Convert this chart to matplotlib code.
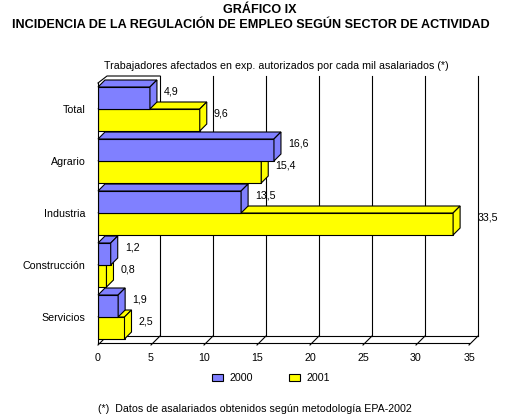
import matplotlib
matplotlib.use("Agg")
import matplotlib.pyplot as plt
from matplotlib.patches import Polygon, Rectangle

plt.rcParams['font.family'] = ['Liberation Sans', 'DejaVu Sans']

# Data
sectores = ["Total", "Agrario", "Industria", "Construcción", "Servicios"]
valores_2000 = [4.9, 16.6, 13.5, 1.2, 1.9]
valores_2001 = [9.6, 15.4, 33.5, 0.8, 2.5]
anios = ["2000", "2001"]
ticks_x = [0, 5, 10, 15, 20, 25, 30, 35]

color_2000 = "#8080FF"
color_2001 = "#FFFF00"
fs = 7.7

W, H = 524, 417
fig = plt.figure(figsize=(W / 100, H / 100), dpi=100)

# front plane of the 3D box (pixels)
left, right, top, bottom = 98, 469, 83, 343
ax = fig.add_axes([left / W, 1 - bottom / H, (right - left) / W, (bottom - top) / H])
ax.set_xlim(0, 35)
ax.set_ylim(4.5, -0.5)

ux = (right - left) / 35.0
uy = (bottom - top) / 5.0


def px(dx, dy):
    return dx / ux, dy / uy


wx, wy = px(9, 7)     # wall depth
bx, by = px(7, 7)     # bar depth
h = 22 / uy           # bar thickness
lw = 0.8

# back wall grid + floor
for t in ticks_x[1:]:
    ax.plot([t + wx, t + wx], [-0.5 - wy, 4.5 - wy], color='k', lw=lw, zorder=1, clip_on=False)
ax.plot([wx, 35 + wx], [4.5 - wy, 4.5 - wy], color='k', lw=lw, zorder=1, clip_on=False)
ax.plot([0, wx, 5 + wx], [-0.5, -0.5 - wy, -0.5 - wy], color='k', lw=lw, zorder=1, clip_on=False)
# diagonal ticks on the floor
for t in ticks_x:
    ax.plot([t, t + wx], [4.5 + px(0, 2)[1], 4.5 - wy], color='k', lw=lw, zorder=1, clip_on=False)


def barra(yc, v, color, z, dx_lab=7):
    ax.barh(yc, v, height=h, color=color, edgecolor='k', linewidth=lw, zorder=z)
    y0, y1 = yc - h / 2, yc + h / 2
    cara_sup = Polygon([(0, y0), (v, y0), (v + bx, y0 - by), (bx, y0 - by)],
                       fc=color, ec='k', lw=lw, zorder=z, clip_on=False)
    cara_lat = Polygon([(v, y0), (v + bx, y0 - by), (v + bx, y1 - by), (v, y1)],
                       fc=color, ec='k', lw=lw, zorder=z, clip_on=False)
    ax.add_patch(cara_sup)
    ax.add_patch(cara_lat)
    etiqueta = f"{v:.1f}".replace('.', ',')
    ax.text(v + bx + px(dx_lab, 0)[0], yc - px(0, 7)[1], etiqueta, fontsize=fs,
            ha='left', va='center', zorder=50)


# draw from the bottom category up so upper bars overlap lower ones
for i in reversed(range(len(sectores))):
    z = 10 + (len(sectores) - i) * 3
    barra(i + h / 2, valores_2001[i], color_2001, z, 7 if valores_2001[i] < 30 else 18)
    barra(i - h / 2, valores_2000[i], color_2000, z + 1)

ax.set_xticks(ticks_x)
ax.set_xticklabels([str(t) for t in ticks_x], fontsize=fs)
ax.set_yticks(range(len(sectores)))
ax.set_yticklabels(sectores, fontsize=fs)
ax.tick_params(axis='x', length=0, pad=7)
ax.tick_params(axis='y', length=0, pad=9)
ax.patch.set_alpha(0)
for s in ['top', 'right']:
    ax.spines[s].set_visible(False)
for s in ['left', 'bottom']:
    ax.spines[s].set_linewidth(lw)
    ax.spines[s].set_zorder(40)

# legend
handles = [Rectangle((0, 0), 1, 1, fc=color_2000, ec='k', lw=lw),
           Rectangle((0, 0), 1, 1, fc=color_2001, ec='k', lw=lw)]
fig.legend(handles, anios, loc='center', bbox_to_anchor=(271 / W, 1 - 378 / H), ncol=2,
           frameon=False, fontsize=fs, handlelength=1.1, handleheight=0.7,
           handletextpad=0.6, columnspacing=3.3)

# texts
fig.text(260 / W, 1 - 10 / H, "GRÁFICO IX", ha='center', va='center', fontsize=9.1, weight='bold')
fig.text(251 / W, 1 - 25 / H, "INCIDENCIA DE LA REGULACIÓN DE EMPLEO SEGÚN SECTOR DE ACTIVIDAD",
         ha='center', va='center', fontsize=9.1, weight='bold')
fig.text(104 / W, 1 - 66 / H,
         "Trabajadores afectados en exp. autorizados por cada mil asalariados (*)",
         ha='left', va='center', fontsize=fs)
fig.text(98 / W, 1 - 409 / H, "(*)  Datos de asalariados obtenidos según metodología EPA-2002",
         ha='left', va='center', fontsize=fs)

fig.savefig("out.png", dpi=100)
